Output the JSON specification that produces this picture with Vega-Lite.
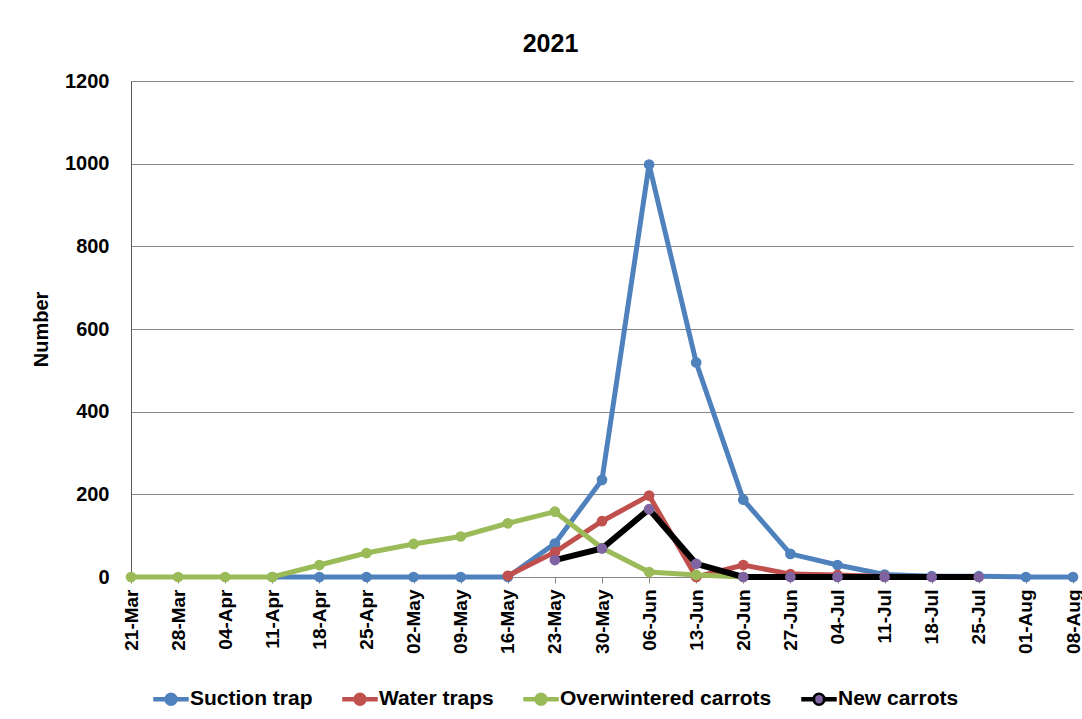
{
  "$schema": "https://vega.github.io/schema/vega-lite/v6.json",
  "autosize": "none",
  "width": 947,
  "height": 496,
  "padding": {"left": 131, "top": 81, "right": 4, "bottom": 142},
  "background": "white",
  "title": {
    "text": "2021",
    "font": "Liberation Sans",
    "fontSize": 25,
    "fontWeight": "bold",
    "color": "#000000",
    "anchor": "middle",
    "baseline": "bottom",
    "offset": 19,
    "dx": -54,
    "dy": 30
  },
  "config": {
    "view": {"stroke": null},
    "font": "Liberation Sans"
  },
  "data": {
    "values": [
      {"date": "11-Apr", "series": "Suction trap", "value": 0},
      {"date": "18-Apr", "series": "Suction trap", "value": 0},
      {"date": "25-Apr", "series": "Suction trap", "value": 0},
      {"date": "02-May", "series": "Suction trap", "value": 0},
      {"date": "09-May", "series": "Suction trap", "value": 0},
      {"date": "16-May", "series": "Suction trap", "value": 0},
      {"date": "23-May", "series": "Suction trap", "value": 81},
      {"date": "30-May", "series": "Suction trap", "value": 235},
      {"date": "06-Jun", "series": "Suction trap", "value": 998},
      {"date": "13-Jun", "series": "Suction trap", "value": 519},
      {"date": "20-Jun", "series": "Suction trap", "value": 187},
      {"date": "27-Jun", "series": "Suction trap", "value": 56},
      {"date": "04-Jul", "series": "Suction trap", "value": 29},
      {"date": "11-Jul", "series": "Suction trap", "value": 6},
      {"date": "18-Jul", "series": "Suction trap", "value": 2},
      {"date": "25-Jul", "series": "Suction trap", "value": 2},
      {"date": "01-Aug", "series": "Suction trap", "value": 0},
      {"date": "08-Aug", "series": "Suction trap", "value": 0},

      {"date": "16-May", "series": "Water traps", "value": 3},
      {"date": "23-May", "series": "Water traps", "value": 60},
      {"date": "30-May", "series": "Water traps", "value": 135},
      {"date": "06-Jun", "series": "Water traps", "value": 197},
      {"date": "13-Jun", "series": "Water traps", "value": 0},
      {"date": "20-Jun", "series": "Water traps", "value": 29},
      {"date": "27-Jun", "series": "Water traps", "value": 7},
      {"date": "04-Jul", "series": "Water traps", "value": 5},
      {"date": "11-Jul", "series": "Water traps", "value": 1},

      {"date": "21-Mar", "series": "Overwintered carrots", "value": 0},
      {"date": "28-Mar", "series": "Overwintered carrots", "value": 0},
      {"date": "04-Apr", "series": "Overwintered carrots", "value": 0},
      {"date": "11-Apr", "series": "Overwintered carrots", "value": 0},
      {"date": "18-Apr", "series": "Overwintered carrots", "value": 29},
      {"date": "25-Apr", "series": "Overwintered carrots", "value": 58},
      {"date": "02-May", "series": "Overwintered carrots", "value": 80},
      {"date": "09-May", "series": "Overwintered carrots", "value": 98},
      {"date": "16-May", "series": "Overwintered carrots", "value": 130},
      {"date": "23-May", "series": "Overwintered carrots", "value": 158},
      {"date": "30-May", "series": "Overwintered carrots", "value": 70},
      {"date": "06-Jun", "series": "Overwintered carrots", "value": 12},
      {"date": "13-Jun", "series": "Overwintered carrots", "value": 5},
      {"date": "20-Jun", "series": "Overwintered carrots", "value": 0},

      {"date": "23-May", "series": "New carrots", "value": 41},
      {"date": "30-May", "series": "New carrots", "value": 69},
      {"date": "06-Jun", "series": "New carrots", "value": 164},
      {"date": "13-Jun", "series": "New carrots", "value": 32},
      {"date": "20-Jun", "series": "New carrots", "value": 0},
      {"date": "27-Jun", "series": "New carrots", "value": 0},
      {"date": "04-Jul", "series": "New carrots", "value": 0},
      {"date": "11-Jul", "series": "New carrots", "value": 0},
      {"date": "18-Jul", "series": "New carrots", "value": 0},
      {"date": "25-Jul", "series": "New carrots", "value": 0}
    ]
  },
  "encoding": {
    "x": {
      "field": "date",
      "type": "ordinal",
      "sort": null,
      "scale": {
        "type": "point",
        "domain": ["21-Mar", "28-Mar", "04-Apr", "11-Apr", "18-Apr", "25-Apr", "02-May", "09-May", "16-May", "23-May", "30-May", "06-Jun", "13-Jun", "20-Jun", "27-Jun", "04-Jul", "11-Jul", "18-Jul", "25-Jul", "01-Aug", "08-Aug"],
        "range": [0, 942],
        "padding": 0
      },
      "axis": {
        "title": null,
        "labelAngle": -90,
        "labelAlign": "right",
        "labelBaseline": "middle",
        "labelFont": "Liberation Sans",
        "labelFontSize": 19,
        "labelFontWeight": "bold",
        "labelColor": "#000000",
        "labelPadding": 6,
        "tickSize": 6,
        "tickColor": "#868686",
        "domainColor": "#868686",
        "grid": false
      }
    },
    "y": {
      "field": "value",
      "type": "quantitative",
      "scale": {"domain": [0, 1200], "nice": false},
      "axis": {
        "title": "Number",
        "titleFont": "Liberation Sans",
        "titleFontSize": 20,
        "titleFontWeight": "bold",
        "titleColor": "#000000",
        "titleAngle": -90,
        "titleAlign": "center",
        "titleBaseline": "middle",
        "titleX": -90,
        "titleY": 248,
        "values": [0, 200, 400, 600, 800, 1000, 1200],
        "format": "d",
        "labelFont": "Liberation Sans",
        "labelFontSize": 20,
        "labelFontWeight": "bold",
        "labelColor": "#000000",
        "labelPadding": 22,
        "ticks": false,
        "domainColor": "#595959",
        "grid": true,
        "gridColor": "#868686",
        "gridWidth": 1
      }
    }
  },
  "layer": [
    {
      "transform": [{"filter": "datum.series === 'Suction trap'"}],
      "mark": {"type": "line", "strokeWidth": 5},
      "encoding": {"stroke": {"field": "series", "type": "nominal", "scale": {"domain": ["Suction trap", "Water traps", "Overwintered carrots", "New carrots"], "range": ["#4F81BD", "#C0504D", "#9BBB59", "#000000"]}, "legend": {"title": null, "orient": "none", "legendX": 22, "legendY": 600, "direction": "horizontal", "symbolType": "M-1,-0.06 H-0.3 V0.06 H-1 Z M0.3,-0.06 H1 V0.06 H0.3 Z M0.33,0 A0.33,0.33 0 1,1 -0.33,0 A0.33,0.33 0 1,1 0.33,0 Z", "symbolSize": 1089, "symbolStrokeWidth": 2.5, "labelFont": "Liberation Sans", "labelFontSize": 21, "labelFontWeight": "bold", "labelColor": "#000000", "labelOffset": 1, "labelLimit": 400, "columnPadding": 25}}}
    },
    {
      "transform": [{"filter": "datum.series === 'Suction trap'"}],
      "mark": {"type": "point", "filled": true, "size": 115, "opacity": 1},
      "encoding": {"fill": {"field": "series", "type": "nominal", "scale": {"domain": ["Suction trap", "Water traps", "Overwintered carrots", "New carrots"], "range": ["#4F81BD", "#C0504D", "#9BBB59", "#8064A2"]}, "legend": {"title": null, "orient": "none", "legendX": 22, "legendY": 600, "direction": "horizontal", "symbolType": "M-1,-0.06 H-0.3 V0.06 H-1 Z M0.3,-0.06 H1 V0.06 H0.3 Z M0.33,0 A0.33,0.33 0 1,1 -0.33,0 A0.33,0.33 0 1,1 0.33,0 Z", "symbolSize": 1089, "symbolStrokeWidth": 2.5, "labelFont": "Liberation Sans", "labelFontSize": 21, "labelFontWeight": "bold", "labelColor": "#000000", "labelOffset": 1, "labelLimit": 400, "columnPadding": 25}}}
    },
    {
      "transform": [{"filter": "datum.series === 'Water traps'"}],
      "mark": {"type": "line", "strokeWidth": 5},
      "encoding": {"stroke": {"field": "series", "type": "nominal"}}
    },
    {
      "transform": [{"filter": "datum.series === 'Water traps'"}],
      "mark": {"type": "point", "filled": true, "size": 115, "opacity": 1},
      "encoding": {"fill": {"field": "series", "type": "nominal"}}
    },
    {
      "transform": [{"filter": "datum.series === 'Overwintered carrots'"}],
      "mark": {"type": "line", "strokeWidth": 5},
      "encoding": {"stroke": {"field": "series", "type": "nominal"}}
    },
    {
      "transform": [{"filter": "datum.series === 'Overwintered carrots'"}],
      "mark": {"type": "point", "filled": true, "size": 115, "opacity": 1},
      "encoding": {"fill": {"field": "series", "type": "nominal"}}
    },
    {
      "transform": [{"filter": "datum.series === 'New carrots'"}],
      "mark": {"type": "line", "strokeWidth": 6},
      "encoding": {"stroke": {"field": "series", "type": "nominal"}}
    },
    {
      "transform": [{"filter": "datum.series === 'New carrots'"}],
      "mark": {"type": "point", "filled": true, "size": 115, "opacity": 1},
      "encoding": {"fill": {"field": "series", "type": "nominal"}}
    }
  ]
}
